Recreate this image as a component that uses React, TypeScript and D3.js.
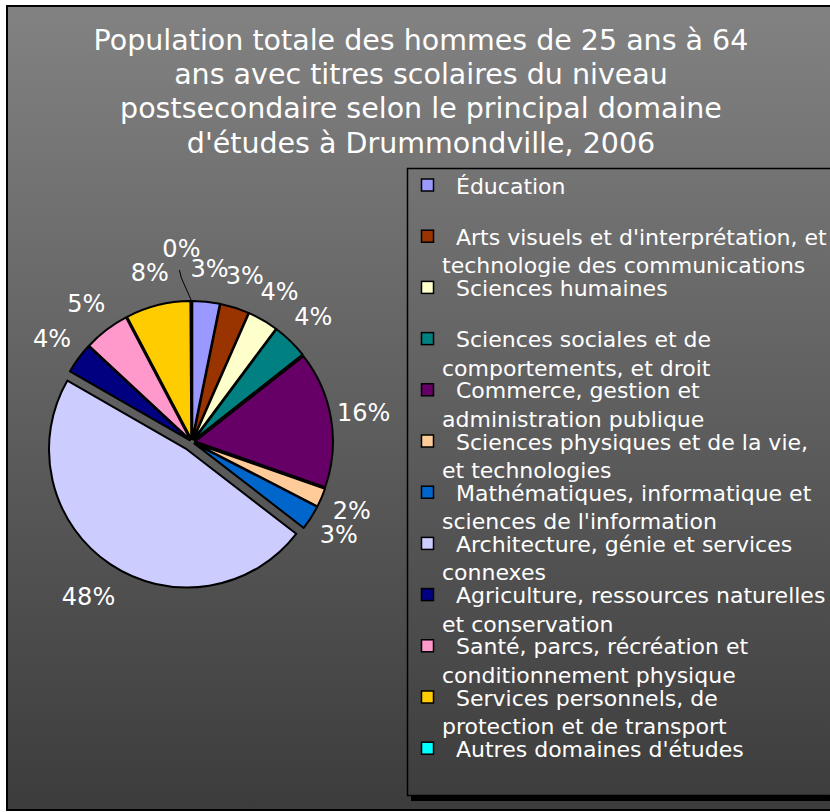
import React from 'react';
import * as d3 from 'd3';

const TITLE_LINES = [
  "Population totale des hommes de 25 ans à 64",
  "ans avec titres scolaires du niveau",
  "postsecondaire selon le principal domaine",
  "d'études à Drummondville, 2006",
];

const CATEGORIES = [
  "Éducation",
  "Arts visuels et d'interprétation, et\ntechnologie des communications",
  "Sciences humaines",
  "Sciences sociales et de\ncomportements, et droit",
  "Commerce, gestion et\nadministration publique",
  "Sciences physiques et de la vie,\net technologies",
  "Mathématiques, informatique et\nsciences de l'information",
  "Architecture, génie et services\nconnexes",
  "Agriculture, ressources naturelles\net conservation",
  "Santé, parcs, récréation et\nconditionnement physique",
  "Services personnels, de\nprotection et de transport",
  "Autres domaines d'études",
];

const VALUES = [3.2, 3.4, 3.6, 4.2, 16.0, 2.2, 2.9, 47.9, 3.6, 5.4, 7.6, 0.1];

const COLORS = [
  "#9999FF", "#993300", "#FFFFCC", "#008080", "#660066", "#FFCC99",
  "#0066CC", "#CCCCFF", "#000080", "#FF99CC", "#FFCC00", "#00FFFF",
];

const FONT = "'DejaVu Sans', Verdana, sans-serif";

export default function App() {
  const W = 830, H = 812;
  const cx = 192, cy = 442, r = 138;
  const total = d3.sum(VALUES);
  const maxV = d3.max(VALUES) as number;

  const pie = d3.pie<number>().sort(null).startAngle(0).endAngle(2 * Math.PI);
  const arcs = pie(VALUES);
  const arcGen = d3.arc<d3.PieArcDatum<number>>().innerRadius(0).outerRadius(r);

  const legendX = 407, legendY = 168, rowStep = 51.2, row0 = 186, lineStep = 28.5;

  return (
    <svg width={W} height={H} style={{ position: 'absolute', left: 0, top: 0 }} fontFamily={FONT}>
      <defs>
        <linearGradient id="bg" gradientUnits="userSpaceOnUse" x1="0" y1="5" x2="0" y2="810">
          <stop offset="0" stopColor="#828282" />
          <stop offset="1" stopColor="#3c3c3c" />
        </linearGradient>
      </defs>
      <rect x={0} y={0} width={W} height={H} fill="#ffffff" />
      <rect x={7} y={6} width={840} height={804} fill="url(#bg)" stroke="#000" strokeWidth={2} />

      {TITLE_LINES.map((t, i) => (
        <text key={i} x={421} y={40 + i * 34.4} fill="#fff" fontSize={28.5} textAnchor="middle" dominantBaseline="central">{t}</text>
      ))}

      {/* pie */}
      {arcs.map((a, i) => {
        const mid = (a.startAngle + a.endAngle) / 2;
        const ex = VALUES[i] === maxV ? 9 : 3;
        const dx = Math.sin(mid) * ex, dy = -Math.cos(mid) * ex;
        return (
          <path key={i} d={arcGen(a) as string} transform={`translate(${cx + dx},${cy + dy})`}
            fill={COLORS[i]} stroke="#000" strokeWidth={2} strokeLinejoin="round" />
        );
      })}

      {arcs.map((a, i) => {
        const mid = (a.startAngle + a.endAngle) / 2;
        const ex = VALUES[i] === maxV ? 9 : 3;
        const pct = Math.round((VALUES[i] / total) * 100);
        const tiny = VALUES[i] / total < 0.01;
        const lr = tiny ? r + 55 : r + 30 + 2 * ex;
        let lx = cx + Math.sin(mid) * lr;
        const ly = cy - Math.cos(mid) * lr;
        if (tiny) lx -= 10;
        const ex0 = cx + Math.sin(mid) * (r + ex), ey0 = cy - Math.cos(mid) * (r + ex);
        return (
          <g key={i}>
            {tiny && (
              <path d={`M${lx - 2},${ly + 21} L${lx},${ly + 29} L${ex0},${ey0}`} fill="none" stroke="#000" strokeWidth={1} />
            )}
            <text x={lx} y={ly} fill="#fff" fontSize={24} textAnchor="middle" dominantBaseline="central">{pct}%</text>
          </g>
        );
      })}

      {/* legend */}
      <rect x={legendX + 4} y={legendY + 5} width={440} height={628} fill="#000" />
      <rect x={legendX + 0.5} y={legendY + 0.5} width={440} height={627} fill="url(#bg)" stroke="#000" strokeWidth={1.5} />
      {CATEGORIES.map((c, i) => {
        const y = row0 + i * rowStep;
        const lines = c.split("\n");
        return (
          <g key={i}>
            <rect x={421.5} y={y - 7} width={12} height={12} fill={COLORS[i]} stroke="#000" strokeWidth={1.5} />
            {lines.map((ln, j) => (
              <text key={j} x={j === 0 ? 456 : 442} y={y + j * lineStep} fill="#fff" fontSize={22} dominantBaseline="central">{ln}</text>
            ))}
          </g>
        );
      })}
    </svg>
  );
}
